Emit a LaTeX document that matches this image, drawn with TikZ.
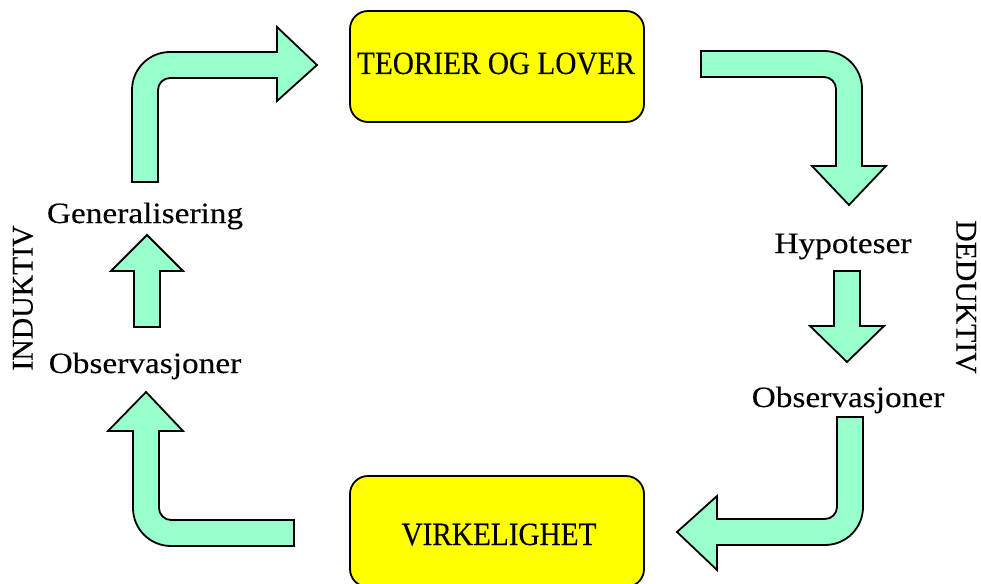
\documentclass[tikz,border=0pt]{standalone}
\usepackage{fontspec}
\setmainfont{Liberation Serif}
\newfontfamily\capsfont[FakeStretch=0.9,FakeBold=0.2]{Liberation Serif}
\newfontfamily\lblfont[FakeStretch=1.13,FakeBold=0.2]{Liberation Serif}
\newfontfamily\sidefont[FakeStretch=0.99,FakeBold=0.2]{Liberation Serif}
\definecolor{arrowgreen}{RGB}{153,255,204}
\definecolor{boxyellow}{RGB}{255,255,0}
\begin{document}
\begin{tikzpicture}[x=1pt,y=-1pt,
  flow/.style={draw=black, line width=1.8pt, fill=arrowgreen, line join=miter},
  termbox/.style={draw=black, line width=1.8pt, fill=boxyellow, rounded corners=18pt,
    minimum width=294, minimum height=111, inner sep=0pt},
  boxtext/.style={font=\capsfont\fontsize{32.5}{38}\selectfont, inner sep=0pt, anchor=base},
  steptext/.style={font=\lblfont\fontsize{29.5}{35}\selectfont, inner sep=0pt, anchor=base},
  sidetext/.style={font=\sidefont\fontsize{30}{36}\selectfont, inner sep=0pt}]
\useasboundingbox (0,0) rectangle (981,583);
\begin{scope}
\clip (0,0) rectangle (981,583);

% the two yellow boxes
\node[termbox] (teori) at (497,66.5) {};
\node[boxtext] (teoritxt) at (496,74) {TEORIER OG LOVER};
\node[termbox] (virk) at (497,531.5) {};
\node[boxtext] (virktxt) at (499,545) {VIRKELIGHET};

% step labels
\node[steptext] (gen) at (145,223) {Generalisering};
\node[steptext] (obsL) at (145,373) {Observasjoner};
\node[steptext] (hyp) at (843,253) {Hypoteser};
\node[steptext] (obsR) at (848,407) {Observasjoner};

% side labels
\node[sidetext, rotate=90] (ind) at (23,298) {INDUKTIV};
\node[sidetext, rotate=-90] (ded) at (966,297) {DEDUKTIV};

% bent arrow: generalisation up to theories
\draw[flow] (132,182) -- (132,90) .. controls (132,69) and (149,52) .. (170,52)
  -- (277,52) -- (277,27) -- (317,65) -- (277,101) -- (277,78) -- (170,78)
  .. controls (163.4,78) and (158,83.4) .. (158,90) -- (158,182) -- cycle;

% bent arrow: theories down to hypotheses
\draw[flow] (701,51) -- (824,51) .. controls (845,51) and (862,68) .. (862,89)
  -- (862,166) -- (886,166) -- (849,205) -- (812,166) -- (836,166) -- (836,89)
  .. controls (836,82.4) and (830.6,77) .. (824,77) -- (701,77) -- cycle;

% straight arrow: hypotheses to observations
\draw[flow] (834,271) -- (860,271) -- (860,326) -- (884,326) -- (847,362)
  -- (810,326) -- (834,326) -- cycle;

% bent arrow: observations to reality
\draw[flow] (837,417) -- (863,417) -- (863,507) .. controls (863,528) and (846,545) .. (825,545)
  -- (717,545) -- (717,570) -- (677,532) -- (717,496) -- (717,519) -- (825,519)
  .. controls (831.6,519) and (837,513.6) .. (837,507) -- cycle;

% bent arrow: reality up to observations
\draw[flow] (294,546) -- (171,546) .. controls (150,546) and (133,529) .. (133,508)
  -- (133,431) -- (108,431) -- (146,392) -- (183,431) -- (159,431) -- (159,508)
  .. controls (159,514.6) and (164.4,520) .. (171,520) -- (294,520) -- cycle;

% straight arrow: observations up to generalisation
\draw[flow] (134,327) -- (134,271) -- (111,271) -- (147,235) -- (183,271)
  -- (160,271) -- (160,327) -- cycle;
\end{scope}
\end{tikzpicture}
\end{document}
